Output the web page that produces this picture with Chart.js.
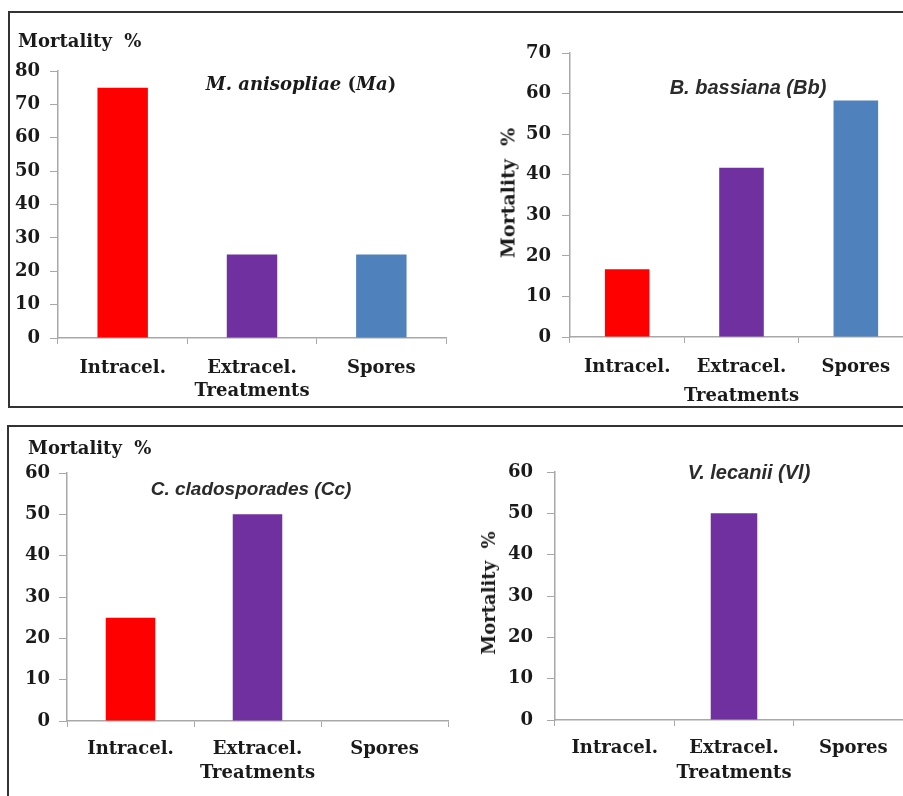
<!DOCTYPE html>
<html>
<head>
<meta charset="utf-8">
<script src="https://cdn.jsdelivr.net/npm/chart.js@4.4.1/dist/chart.umd.min.js"></script>
<style>
  html, body { margin: 0; padding: 0; background: #fff; }
  body { position: relative; width: 903px; height: 796px; overflow: hidden; }
  .box { position: absolute; border: 2px solid #333; box-sizing: border-box; }
  .cv { position: absolute; }
  .txt { position: absolute; white-space: nowrap; color: #1a1a1a; line-height: 1; }
  .serif { font-family: 'DejaVu Serif', serif; font-weight: bold; }
  .sp { font-family: 'Liberation Sans', sans-serif; font-weight: bold; font-style: italic; color: #2b2b2b; }
  .ctr { transform: translate(-50%, -50%); }
  .rot { transform: translate(-50%, -50%) rotate(-90deg); }
</style>
</head>
<body>
<div class="box" style="left:8px;top:11px;width:930px;height:397px;"></div>
<div class="box" style="left:7px;top:425px;width:930px;height:400px;"></div>

<div class="cv" style="left:10px;top:20px;width:445px;height:385px;"><canvas id="ma"></canvas></div>
<div class="cv" style="left:460px;top:20px;width:453px;height:385px;"><canvas id="bb"></canvas></div>
<div class="cv" style="left:10px;top:432px;width:445px;height:364px;"><canvas id="cc"></canvas></div>
<div class="cv" style="left:460px;top:432px;width:453px;height:364px;"><canvas id="vl"></canvas></div>

<div class="txt serif" style="left:18px;top:32px;font-size:18px;">Mortality&nbsp; %</div>
<div class="txt serif ctr" style="left:301px;top:84px;font-size:18px;"><i>M. anisopliae</i> (<i>Ma</i>)</div>
<div class="txt serif rot" style="left:508px;top:193px;font-size:19px;">Mortality&nbsp; %</div>
<div class="txt sp ctr" style="left:748px;top:87px;font-size:20px;">B. bassiana (Bb)</div>

<div class="txt serif" style="left:28px;top:439px;font-size:18px;">Mortality&nbsp; %</div>
<div class="txt sp ctr" style="left:251px;top:488px;font-size:19px;">C. cladosporades (Cc)</div>
<div class="txt serif rot" style="left:489px;top:593px;font-size:18px;">Mortality&nbsp; %</div>
<div class="txt sp ctr" style="left:749px;top:472px;font-size:20px;">V. lecanii (Vl)</div>

<script>
// data
const categories = ["Intracel.", "Extracel.", "Spores"];
const maMortality = [75, 25, 25];
const bbMortality = [16.7, 41.7, 58.3];
const ccMortality = [25, 50, 0];
const vlMortality = [0, 50, 0];
const maTicks = [0, 10, 20, 30, 40, 50, 60, 70, 80];
const bbTicks = [0, 10, 20, 30, 40, 50, 60, 70];
const ccTicks = [0, 10, 20, 30, 40, 50, 60];
const vlTicks = [0, 10, 20, 30, 40, 50, 60];
const xTitle = "Treatments";

const BAR_COLORS = ["#ff0000", "#7030a0", "#4f81bd"];
const AXIS = "#a8a8a8";
const INK = "#1a1a1a";
const SERIF = "'DejaVu Serif', serif";

function makeChart(id, values, ticks, g) {
  const ctx = document.getElementById(id);
  return new Chart(ctx, {
    type: "bar",
    data: {
      labels: categories,
      datasets: [{
        data: values,
        backgroundColor: BAR_COLORS,
        borderWidth: 0,
        barPercentage: 0.39,
        categoryPercentage: 1
      }]
    },
    options: {
      responsive: true,
      maintainAspectRatio: false,
      animation: false,
      layout: { padding: { top: g.top, right: g.right, left: 0, bottom: 0 } },
      plugins: { legend: { display: false }, tooltip: { enabled: false } },
      scales: {
        x: {
          grid: { display: true, drawOnChartArea: false, color: AXIS, tickLength: 6, offset: true },
          border: { color: AXIS, width: 1.5 },
          ticks: {
            color: INK, padding: g.xPad, maxRotation: 0,
            font: { family: SERIF, weight: "bold", size: 18 }
          },
          title: {
            display: true, text: xTitle, color: INK,
            padding: { top: 0, bottom: g.titlePad },
            font: { family: SERIF, weight: "bold", size: 18, lineHeight: 1 }
          },
          afterFit: (s) => { s.height = g.xHeight; }
        },
        y: {
          min: ticks[0],
          max: ticks[ticks.length - 1],
          grid: { display: true, drawOnChartArea: false, color: AXIS, tickLength: 8 },
          border: { color: AXIS, width: 1.5 },
          ticks: {
            stepSize: ticks[1] - ticks[0], color: INK, padding: g.yPad,
            font: { family: SERIF, weight: "bold", size: 18 }
          },
          afterFit: (s) => { s.width = g.yWidth; }
        }
      }
    }
  });
}

makeChart("ma", maMortality, maTicks, { top: 51, right: 9, yWidth: 48, xHeight: 67, yPad: 10, xPad: 14, titlePad: 5 });
makeChart("bb", bbMortality, bbTicks, { top: 33, right: 0, yWidth: 110, xHeight: 68, yPad: 11, xPad: 14, titlePad: 0 });
makeChart("cc", ccMortality, ccTicks, { top: 41, right: 7, yWidth: 57, xHeight: 75, yPad: 9, xPad: 12, titlePad: 14 });
makeChart("vl", vlMortality, vlTicks, { top: 40, right: 0, yWidth: 95, xHeight: 76, yPad: 14, xPad: 12, titlePad: 14 });
</script>
</body>
</html>
